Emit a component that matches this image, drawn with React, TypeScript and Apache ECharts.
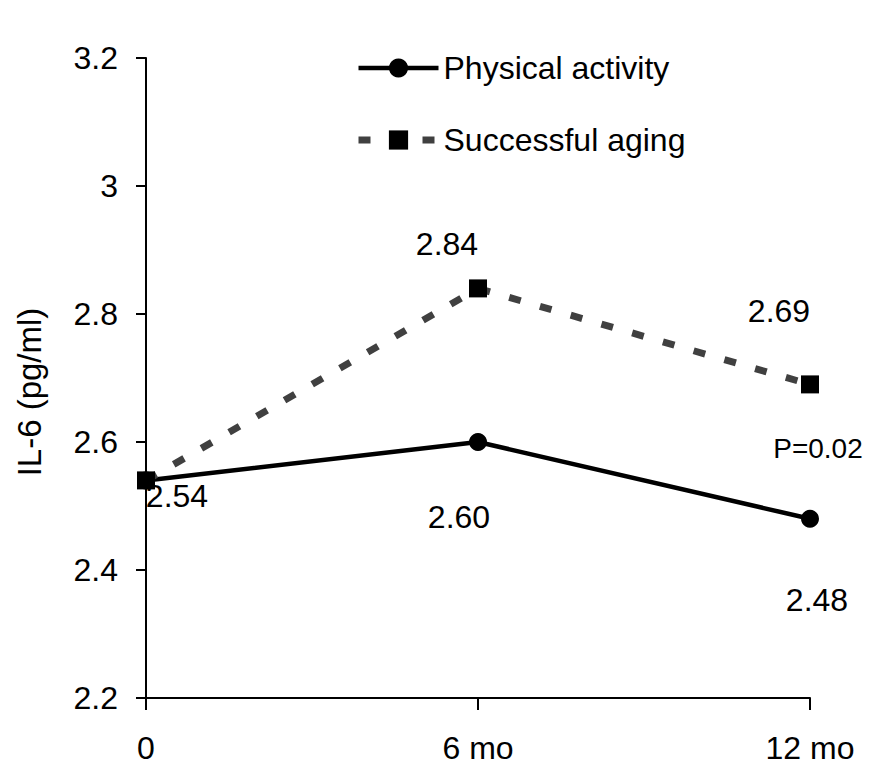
import React, { useEffect, useRef } from "react";
import * as echarts from "echarts";

const categories = ["0", "6 mo", "12 mo"];
const physicalActivity = [2.54, 2.6, 2.48];
const successfulAging = [2.54, 2.84, 2.69];
const paLabels = ["2.54", "2.60", "2.48"];
const saLabels = ["", "2.84", "2.69"];
const paOffsets: [number, number][] = [[31, 16], [-19, 75], [7, 81]];
const saOffsets: [number, number][] = [[0, 0], [-31, -44], [-31, -73]];
const pValueText = "P=0.02";

const FONT = "'Liberation Sans', Arial, sans-serif";

export default function App() {
  const ref = useRef<HTMLDivElement>(null);
  useEffect(() => {
    if (!ref.current) return;
    const chart = echarts.init(ref.current, undefined, { renderer: "svg" });
    const paData = physicalActivity.map((v, i) => ({
      value: v,
      label: {
        show: true,
        position: "inside",
        offset: paOffsets[i],
        formatter: paLabels[i],
        fontSize: 32,
        color: "#000",
        fontFamily: FONT,
      },
    }));
    const saData = successfulAging.map((v, i) => ({
      value: v,
      label: {
        show: saLabels[i] !== "",
        position: "inside",
        offset: saOffsets[i],
        formatter: saLabels[i],
        fontSize: 32,
        color: "#000",
        fontFamily: FONT,
      },
    }));
    chart.setOption({
      animation: false,
      textStyle: { fontFamily: FONT, color: "#000" },
      grid: { left: 146, right: 81, top: 58, bottom: 85, containLabel: false },
      legend: {
        orient: "vertical",
        left: 355,
        top: 52,
        padding: 0,
        itemWidth: 80,
        itemHeight: 24,
        itemGap: 40,
        textStyle: { fontSize: 32, color: "#000", fontFamily: FONT, lineHeight: 32 },
        data: [
          { name: "Physical activity", lineStyle: { width: 4.5 } },
          { name: "Successful aging", lineStyle: { width: 7 } },
        ],
      },
      xAxis: {
        type: "category",
        data: categories,
        boundaryGap: false,
        axisLine: { lineStyle: { color: "#000", width: 2 } },
        axisTick: { show: true, length: 12, alignWithLabel: true, lineStyle: { color: "#000", width: 2 } },
        axisLabel: { fontSize: 32, color: "#000", margin: 34, fontFamily: FONT },
      },
      yAxis: {
        type: "value",
        min: 2.2,
        max: 3.2,
        interval: 0.2,
        name: "IL-6 (pg/ml)",
        nameLocation: "middle",
        nameGap: 100,
        nameRotate: 90,
        nameTextStyle: { fontSize: 33, color: "#000", fontFamily: FONT, padding: [0, 28, 0, 0] },
        axisLine: { show: true, lineStyle: { color: "#000", width: 2 } },
        axisTick: { show: true, length: 10, lineStyle: { color: "#000", width: 2 } },
        axisLabel: { fontSize: 32, color: "#000", margin: 28, fontFamily: FONT },
        splitLine: { show: false },
      },
      series: [
        {
          name: "Physical activity",
          type: "line",
          data: paData,
          symbol: "circle",
          symbolSize: 18,
          lineStyle: { color: "#000", width: 4.5, type: "solid" },
          itemStyle: { color: "#000" },
          z: 2,
        },
        {
          name: "Successful aging",
          type: "line",
          data: saData,
          symbol: "rect",
          symbolSize: 18,
          lineStyle: { color: "#404040", width: 7, type: [12, 20] },
          itemStyle: { color: "#000" },
          z: 3,
        },
      ],
    });
    const p = chart.convertToPixel({ gridIndex: 0 }, [2, 2.6]) as number[];
    chart.setOption({
      graphic: [
        {
          type: "text",
          x: p[0] + 8,
          y: p[1] + 6,
          style: {
            text: pValueText,
            fontSize: 28,
            fontFamily: FONT,
            fill: "#000",
            align: "center",
            verticalAlign: "middle",
          },
        },
      ],
    });
    return () => chart.dispose();
  }, []);
  return (
    <div
      ref={ref}
      style={{ position: "absolute", left: 0, top: 0, width: 891, height: 783 }}
    />
  );
}
